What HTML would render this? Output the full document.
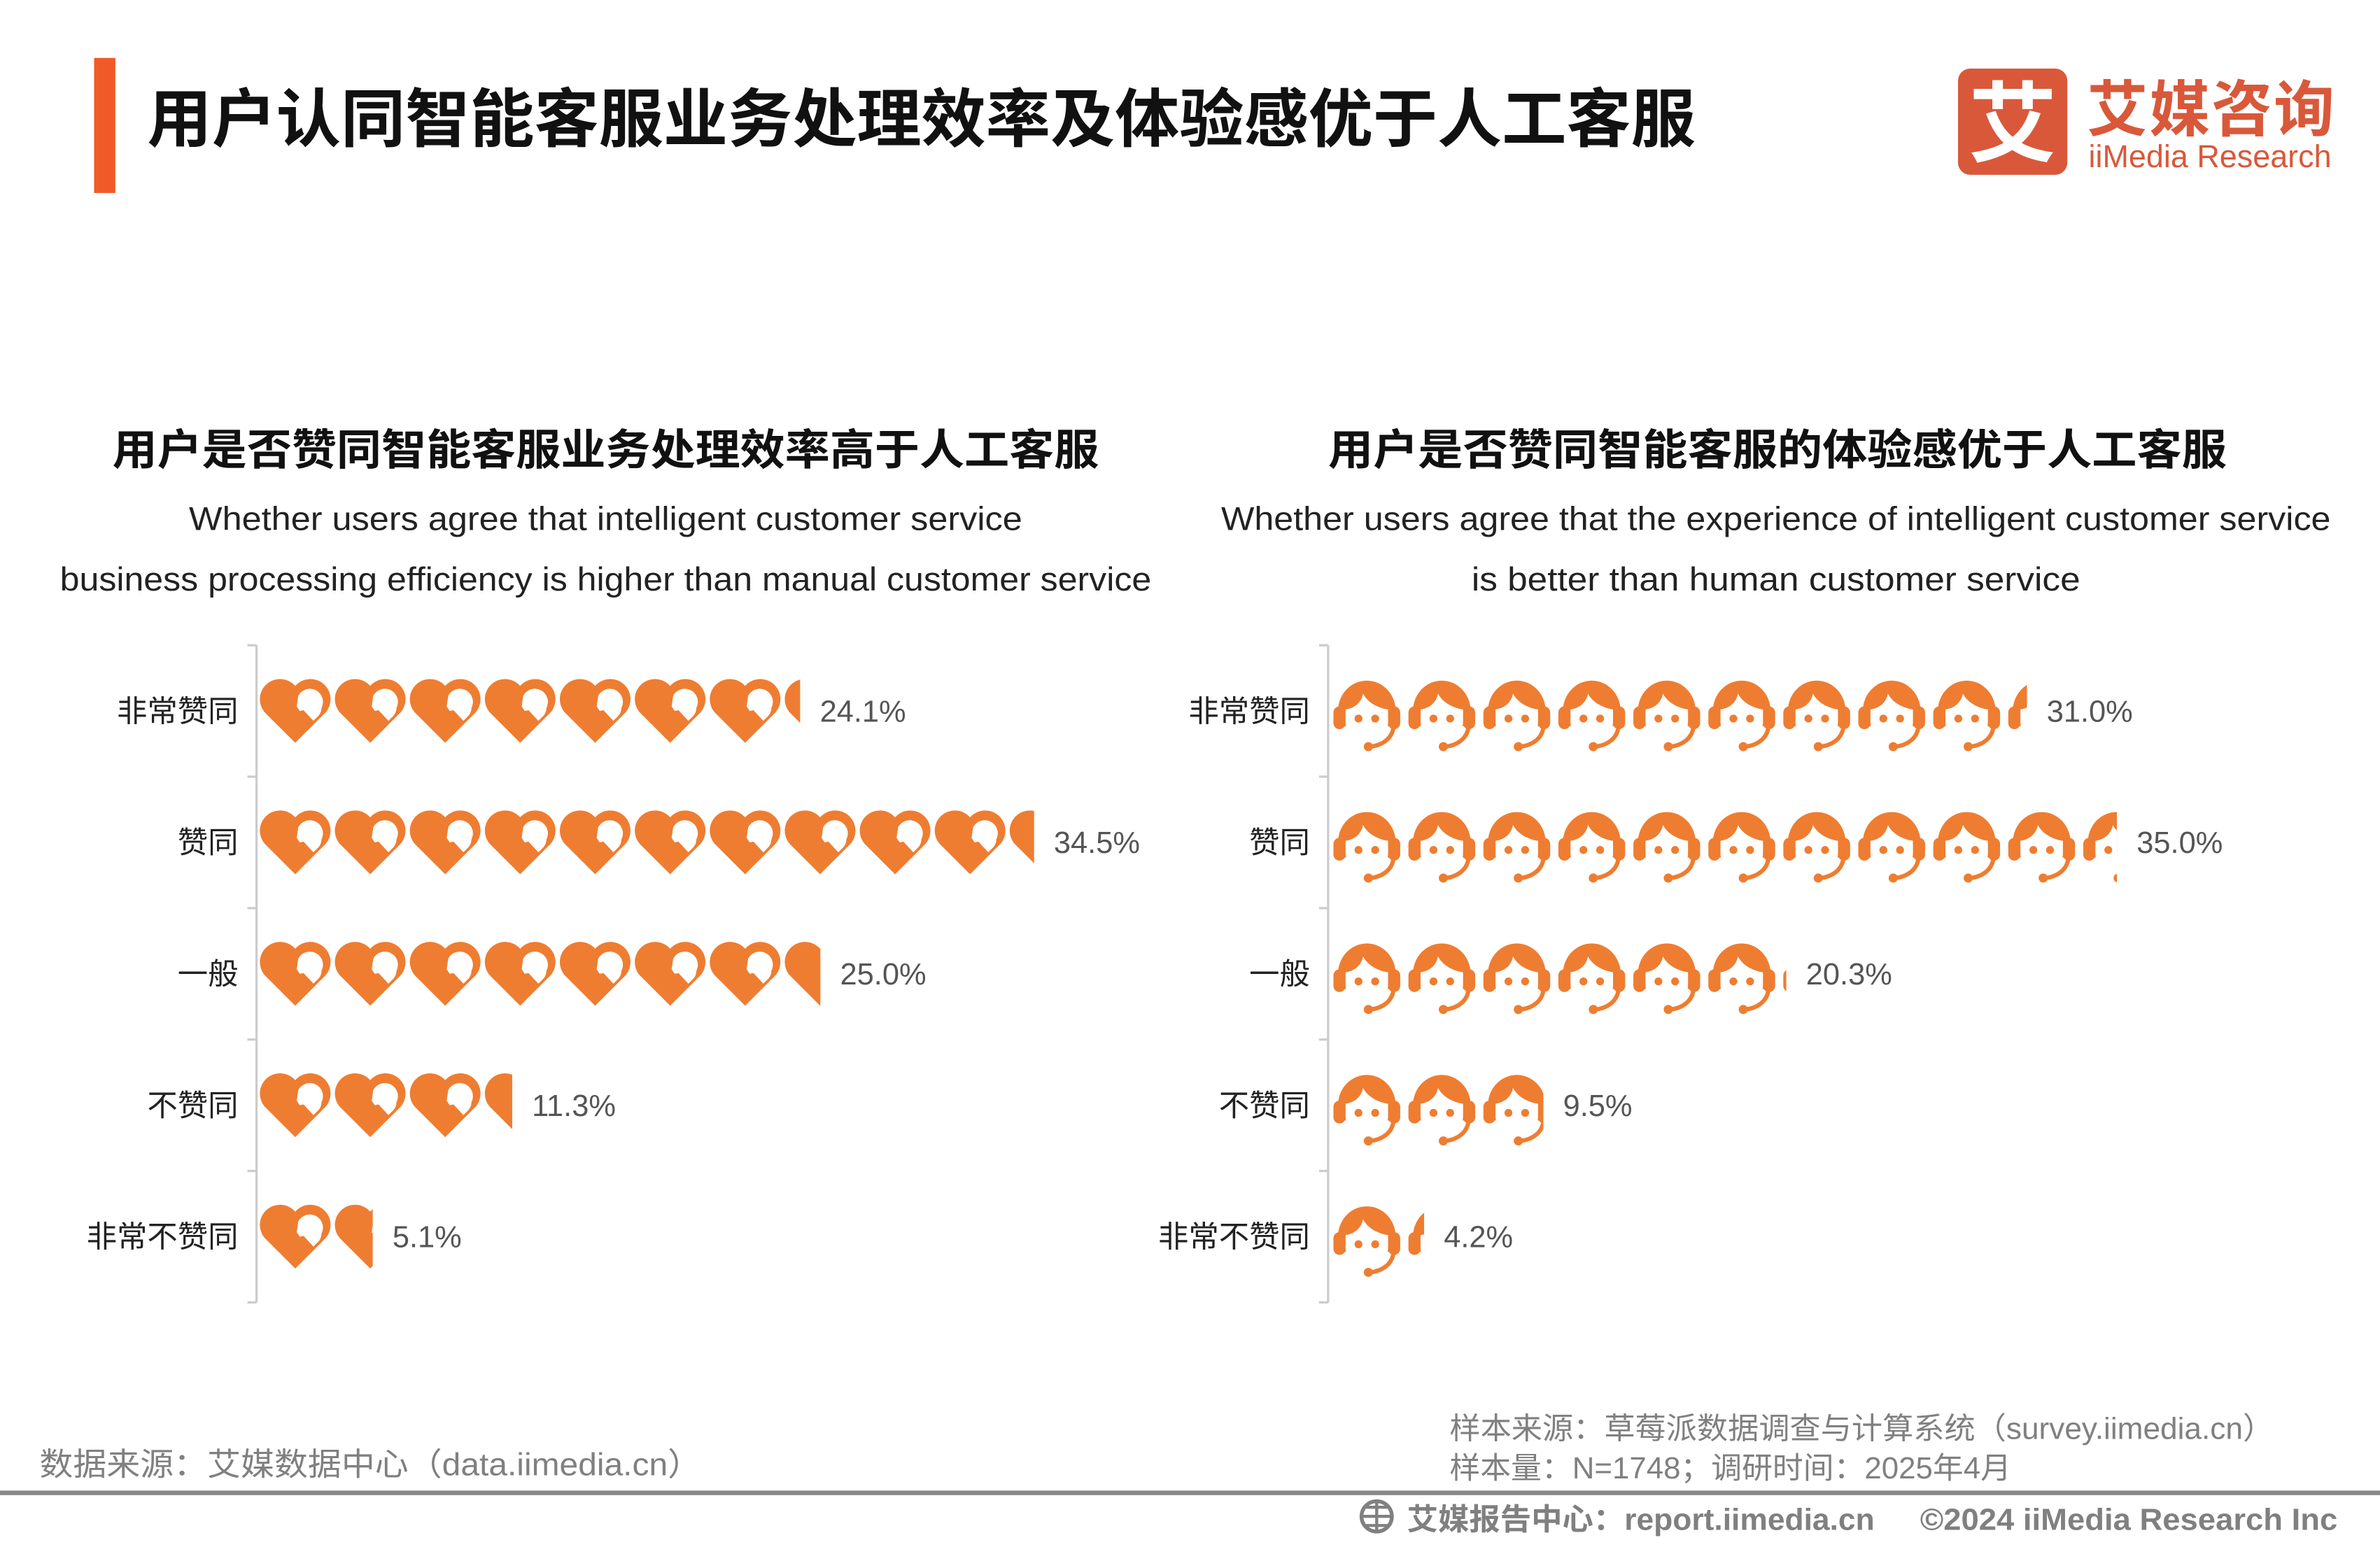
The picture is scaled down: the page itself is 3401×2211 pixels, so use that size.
<!DOCTYPE html>
<html><head><meta charset="utf-8">
<style>
html,body{margin:0;padding:0;background:#fff;}
svg{display:block;}
text{font-family:"Liberation Sans","Noto Sans CJK SC",sans-serif;}
</style></head>
<body>
<svg id="chart" width="3401" height="2211" viewBox="0 0 1568 1019" xmlns="http://www.w3.org/2000/svg">
<defs>
  <g id="heart">
    <path d="M24.5,45 L4.5,25 A11.8,11.8 0 0 1 24.5,7.5 A11.8,11.8 0 0 1 44.5,25 Z" fill="#ee7d31"/>
    <path d="M26.5,14 A8.6,8.6 0 0 1 41.8,22 A8,8 0 0 1 40,27 L36.5,30.5 L30,23.5 L27.5,24 L25.5,21 Z" fill="#fff"/>
  </g>
  <g id="face">
    <path d="M5.5,24 A19,20 0 0 1 43.5,24 L43.5,34 L5.5,34 Z" fill="#ee7d31"/>
    <rect x="2.5" y="21" width="8" height="15" rx="4" fill="#ee7d31"/>
    <rect x="38.5" y="21" width="8" height="15" rx="4" fill="#ee7d31"/>
    <path d="M10.5,23 C17,22 21,18 22,12.5 C25,18.5 32,22 38.5,23 L38.5,31 A14,15.5 0 0 1 10.5,31 Z" fill="#fff"/>
    <circle cx="19" cy="29" r="2.6" fill="#ee7d31"/>
    <circle cx="30" cy="29" r="2.6" fill="#ee7d31"/>
    <path d="M42,35 C41,42 35,46.5 27,47.5" stroke="#ee7d31" stroke-width="2.8" fill="none"/>
    <circle cx="25.5" cy="47.5" r="3" fill="#ee7d31"/>
  </g>
</defs>

<rect x="62" y="38" width="14" height="89" fill="#f05a28"/>
<text x="97" y="93" font-size="42" font-weight="bold" fill="#111" textLength="1020" lengthAdjust="spacingAndGlyphs">用户认同智能客服业务处理效率及体验感优于人工客服</text>

<g>
  <rect x="1290" y="45" width="72" height="70" rx="8" fill="#d9583a"/>
  <text x="1326" y="102" font-size="58" font-weight="bold" fill="#fff" text-anchor="middle">艾</text>
  <text x="1375" y="86" font-size="40" font-weight="bold" fill="#d9583a" textLength="163">艾媒咨询</text>
  <text x="1376" y="110" font-size="21" fill="#d9583a" textLength="160" lengthAdjust="spacingAndGlyphs">iiMedia Research</text>
</g>

<g>
  <text x="399" y="306" font-size="28" font-weight="bold" fill="#111" text-anchor="middle" textLength="650" lengthAdjust="spacingAndGlyphs">用户是否赞同智能客服业务处理效率高于人工客服</text>
  <text x="399" y="349" font-size="22" fill="#222" text-anchor="middle" textLength="549" lengthAdjust="spacingAndGlyphs">Whether users agree that intelligent customer service</text>
  <text x="399" y="389" font-size="22" fill="#222" text-anchor="middle" textLength="719" lengthAdjust="spacingAndGlyphs">business processing efficiency is higher than manual customer service</text>
</g>
<g>
  <text x="1171" y="306" font-size="28" font-weight="bold" fill="#111" text-anchor="middle" textLength="592" lengthAdjust="spacingAndGlyphs">用户是否赞同智能客服的体验感优于人工客服</text>
  <text x="1170" y="349" font-size="22" fill="#222" text-anchor="middle" textLength="731" lengthAdjust="spacingAndGlyphs">Whether users agree that the experience of intelligent customer service</text>
  <text x="1170" y="389" font-size="22" fill="#222" text-anchor="middle" textLength="401" lengthAdjust="spacingAndGlyphs">is better than  human customer service</text>
</g>

<g id="left-chart"></g>
<g id="right-chart"></g>

<g>
  <text x="26" y="972" font-size="21" fill="#808080" textLength="436" lengthAdjust="spacingAndGlyphs">数据来源：艾媒数据中心（data.iimedia.cn）</text>
  <text x="955" y="948" font-size="20" fill="#808080" textLength="543" lengthAdjust="spacingAndGlyphs">样本来源：草莓派数据调查与计算系统（survey.iimedia.cn）</text>
  <text x="955" y="974" font-size="20" fill="#808080" textLength="370" lengthAdjust="spacingAndGlyphs">样本量：N=1748；调研时间：2025年4月</text>
  <rect x="0" y="982" width="1568" height="3" fill="#888"/>
  <g>
    <circle cx="907" cy="999" r="10" fill="none" stroke="#808080" stroke-width="2.5"/>
    <path d="M897,999 H917 M907,989 V1009 M900,993 H914 M900,1005 H914" stroke="#808080" stroke-width="2"/>
  </g>
  <text x="927" y="1008" font-size="20" font-weight="bold" fill="#808080" textLength="308" lengthAdjust="spacingAndGlyphs">艾媒报告中心：report.iimedia.cn</text>
  <text x="1540" y="1008" font-size="20" font-weight="bold" fill="#808080" text-anchor="end" textLength="275" lengthAdjust="spacingAndGlyphs">©2024  iiMedia Research  Inc</text>
</g>
</svg>
<script>
const categories = ["非常赞同", "赞同", "一般", "不赞同", "非常不赞同"];
const leftValues = [24.1, 34.5, 25.0, 11.3, 5.1];
const rightValues = [31.0, 35.0, 20.3, 9.5, 4.2];
const valueLabelsLeft = ["24.1%", "34.5%", "25.0%", "11.3%", "5.1%"];
const valueLabelsRight = ["31.0%", "35.0%", "20.3%", "9.5%", "4.2%"];

const NS = "http://www.w3.org/2000/svg";
const pxPerPct = 14.82;
const iconW = 49.4;
const rowTop = 425, rowH = 86.6;
function xScale(v){ return v * pxPerPct; }
function yCenter(i){ return rowTop + rowH * (i + 0.5); }

function mk(tag, attrs, parent){
  const e = document.createElementNS(NS, tag);
  for (const k in attrs) e.setAttribute(k, attrs[k]);
  parent.appendChild(e);
  return e;
}

function drawChart(gid, x0, values, labels, icon, prefix){
  const g = document.getElementById(gid);
  const axis = mk("line", {x1:x0, y1:rowTop, x2:x0, y2:rowTop + rowH*categories.length, stroke:"#ccc", "stroke-width":1.5}, g);
  
  
  for (let i = 0; i <= categories.length; i++) {
    const t = mk("line", {x1:x0-6, y1:rowTop + rowH*i, x2:x0, y2:rowTop + rowH*i, stroke:"#ccc", "stroke-width":1.5}, g);
    
    
  }
  categories.forEach((c, i) => {
    const yc = yCenter(i);
    const lab = mk("text", {x:x0-12, y:yc+7, "font-size":20, fill:"#222", "text-anchor":"end"}, g);
    lab.textContent = c;
    
    
    const w = xScale(values[i]);
    const cid = prefix + "-clip-" + i;
    const cp = mk("clipPath", {id:cid}, g);
    mk("rect", {x:x0+1, y:yc-30, width:w, height:60}, cp);
    const bar = mk("g", {"clip-path":"url(#"+cid+")"}, g);
    
    
    const n = Math.ceil(w / iconW);
    for (let k = 0; k < n; k++) {
      mk("use", {href:"#"+icon, x:x0+1 + k*iconW, y:yc-24}, bar);
    }
    const vl = mk("text", {x:x0+1 + w + 13, y:yc+7, "font-size":20, fill:"#555"}, g);
    vl.textContent = labels[i];
    
    
  });
}
drawChart("left-chart", 169, leftValues, valueLabelsLeft, "heart", "left");
drawChart("right-chart", 875, rightValues, valueLabelsRight, "face", "right");
</script>
</body></html>
